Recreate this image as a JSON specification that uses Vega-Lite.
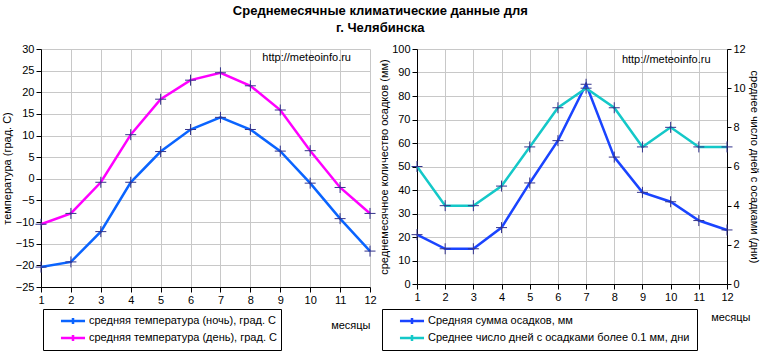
{
  "$schema": "https://vega.github.io/schema/vega-lite/v6.json",
  "padding": {"left": 1, "top": 5, "right": 0, "bottom": 0},
  "background": "white",
  "title": {
    "text": ["Среднемесячные климатические данные для", "г.  Челябинска"],
    "font": "Liberation Sans",
    "fontSize": 13,
    "fontWeight": "bold",
    "lineHeight": 17,
    "anchor": "middle",
    "offset": 8,
    "color": "#000"
  },
  "config": {
    "font": "Liberation Sans",
    "view": {"stroke": null},
    "axis": {
      "labelFont": "Liberation Sans",
      "labelFontSize": 11,
      "labelColor": "#000",
      "titleFont": "Liberation Sans",
      "titleFontSize": 11,
      "titleFontWeight": "normal",
      "titleColor": "#000",
      "domainColor": "#000",
      "tickColor": "#000",
      "gridColor": "#c8c8c8",
      "tickSize": 5,
      "labelPadding": 2,
      "labelOverlap": false
    },
    "legend": {
      "orient": "none",
      "strokeColor": "#000",
      "fillColor": "#fff",
      "padding": 4,
      "labelFont": "Liberation Sans",
      "labelFontSize": 11,
      "labelColor": "#000",
      "labelLimit": 500,
      "symbolType": "M-1.85,0H1.85M0,-0.45V0.45",
      "symbolSize": 169,
      "symbolStrokeWidth": 2.5,
      "symbolFillColor": "transparent",
      "labelOffset": 8,
      "rowPadding": 1,
      "symbolOffset": 18
    }
  },
  "datasets": {
    "temp": [
      {"month": 1, "value": -20.4, "series": "средняя температура (ночь), град. С"},
      {"month": 2, "value": -19.2, "series": "средняя температура (ночь), град. С"},
      {"month": 3, "value": -12.2, "series": "средняя температура (ночь), град. С"},
      {"month": 4, "value": -0.8, "series": "средняя температура (ночь), град. С"},
      {"month": 5, "value": 6.3, "series": "средняя температура (ночь), град. С"},
      {"month": 6, "value": 11.4, "series": "средняя температура (ночь), град. С"},
      {"month": 7, "value": 14.2, "series": "средняя температура (ночь), град. С"},
      {"month": 8, "value": 11.4, "series": "средняя температура (ночь), град. С"},
      {"month": 9, "value": 6.4, "series": "средняя температура (ночь), град. С"},
      {"month": 10, "value": -1.0, "series": "средняя температура (ночь), град. С"},
      {"month": 11, "value": -9.2, "series": "средняя температура (ночь), град. С"},
      {"month": 12, "value": -16.7, "series": "средняя температура (ночь), град. С"},
      {"month": 1, "value": -10.5, "series": "средняя температура (день), град. С"},
      {"month": 2, "value": -8.0, "series": "средняя температура (день), град. С"},
      {"month": 3, "value": -0.8, "series": "средняя температура (день), град. С"},
      {"month": 4, "value": 10.2, "series": "средняя температура (день), град. С"},
      {"month": 5, "value": 18.4, "series": "средняя температура (день), град. С"},
      {"month": 6, "value": 22.8, "series": "средняя температура (день), град. С"},
      {"month": 7, "value": 24.5, "series": "средняя температура (день), град. С"},
      {"month": 8, "value": 21.5, "series": "средняя температура (день), град. С"},
      {"month": 9, "value": 15.9, "series": "средняя температура (день), град. С"},
      {"month": 10, "value": 6.5, "series": "средняя температура (день), град. С"},
      {"month": 11, "value": -2.0, "series": "средняя температура (день), град. С"},
      {"month": 12, "value": -8.0, "series": "средняя температура (день), град. С"}
    ],
    "precip": [
      {"month": 1, "value": 21, "series": "Средняя сумма осадков, мм"},
      {"month": 2, "value": 15, "series": "Средняя сумма осадков, мм"},
      {"month": 3, "value": 15, "series": "Средняя сумма осадков, мм"},
      {"month": 4, "value": 24, "series": "Средняя сумма осадков, мм"},
      {"month": 5, "value": 43, "series": "Средняя сумма осадков, мм"},
      {"month": 6, "value": 61, "series": "Средняя сумма осадков, мм"},
      {"month": 7, "value": 85, "series": "Средняя сумма осадков, мм"},
      {"month": 8, "value": 54, "series": "Средняя сумма осадков, мм"},
      {"month": 9, "value": 39, "series": "Средняя сумма осадков, мм"},
      {"month": 10, "value": 35, "series": "Средняя сумма осадков, мм"},
      {"month": 11, "value": 27, "series": "Средняя сумма осадков, мм"},
      {"month": 12, "value": 23, "series": "Средняя сумма осадков, мм"}
    ],
    "days": [
      {"month": 1, "value": 6, "series": "Среднее число дней с  осадками более 0.1 мм, дни"},
      {"month": 2, "value": 4, "series": "Среднее число дней с  осадками более 0.1 мм, дни"},
      {"month": 3, "value": 4, "series": "Среднее число дней с  осадками более 0.1 мм, дни"},
      {"month": 4, "value": 5, "series": "Среднее число дней с  осадками более 0.1 мм, дни"},
      {"month": 5, "value": 7, "series": "Среднее число дней с  осадками более 0.1 мм, дни"},
      {"month": 6, "value": 9, "series": "Среднее число дней с  осадками более 0.1 мм, дни"},
      {"month": 7, "value": 10, "series": "Среднее число дней с  осадками более 0.1 мм, дни"},
      {"month": 8, "value": 9, "series": "Среднее число дней с  осадками более 0.1 мм, дни"},
      {"month": 9, "value": 7, "series": "Среднее число дней с  осадками более 0.1 мм, дни"},
      {"month": 10, "value": 8, "series": "Среднее число дней с  осадками более 0.1 мм, дни"},
      {"month": 11, "value": 7, "series": "Среднее число дней с  осадками более 0.1 мм, дни"},
      {"month": 12, "value": 7, "series": "Среднее число дней с  осадками более 0.1 мм, дни"}
    ],
    "noteL": [{"month": 8.4, "value": 27.9, "label": "http://meteoinfo.ru"}],
    "noteR": [{"month": 8.27, "value": 95.3, "label": "http://meteoinfo.ru"}]
  },
  "spacing": 0,
  "resolve": {"scale": {"color": "independent"}, "legend": {"color": "independent"}},
  "hconcat": [
    {
      "width": 329,
      "height": 238,
      "layer": [
        {
          "data": {"name": "temp"},
          "mark": {"type": "line", "strokeWidth": 2.5},
          "encoding": {
            "x": {"field": "month", "type": "quantitative", "scale": {"domain": [1, 12], "nice": false},
              "axis": {"values": [1,2,3,4,5,6,7,8,9,10,11,12], "tickCount": 30, "format": "d", "grid": true, "title": "месяцы", "labelOverlap": false,
                "titleAlign": "right", "titleAnchor": "end", "titleX": 329, "titleY": 38, "titleBaseline": "middle", "labelFlush": false}},
            "y": {"field": "value", "type": "quantitative", "scale": {"domain": [-25, 30], "nice": false},
              "axis": {"values": [-25,-20,-15,-10,-5,0,5,10,15,20,25,30], "tickCount": 30, "format": "d", "grid": true, "labelOverlap": false, "title": "температура (град. С)", "titlePadding": 3}},
            "color": {"field": "series", "type": "nominal",
              "scale": {"domain": ["средняя температура (ночь), град. С", "средняя температура (день), град. С"], "range": ["#0a64ff", "#ff00ff"]},
              "legend": {"title": null, "legendX": 2, "legendY": 260}}
          }
        },
        {
          "data": {"name": "temp"},
          "mark": {"type": "point", "shape": "M-1,0H1M0,-1V1", "size": 121, "filled": false, "stroke": "#33338c", "strokeWidth": 1, "opacity": 1},
          "encoding": {
            "x": {"field": "month", "type": "quantitative"},
            "y": {"field": "value", "type": "quantitative"},
            "detail": {"field": "series"}
          }
        },
        {
          "data": {"name": "noteL"},
          "mark": {"type": "text", "align": "left", "baseline": "middle", "fontSize": 11, "font": "Liberation Sans", "color": "#000"},
          "encoding": {
            "x": {"field": "month", "type": "quantitative"},
            "y": {"field": "value", "type": "quantitative"},
            "text": {"field": "label"}
          }
        }
      ]
    },
    {
      "width": 310,
      "height": 235,
      "resolve": {"scale": {"y": "independent"}},
      "layer": [
        {
          "layer": [
            {
              "data": {"name": "precip"},
              "mark": {"type": "line", "strokeWidth": 2.5},
              "encoding": {
                "x": {"field": "month", "type": "quantitative", "scale": {"domain": [1, 12], "nice": false},
                  "axis": {"values": [1,2,3,4,5,6,7,8,9,10,11,12], "tickCount": 30, "format": "d", "grid": true, "title": "месяцы", "labelOverlap": false,
                    "titleAlign": "right", "titleAnchor": "end", "titleX": 333, "titleY": 33, "titleBaseline": "middle", "labelFlush": false}},
                "y": {"field": "value", "type": "quantitative", "scale": {"domain": [0, 100], "nice": false},
                  "axis": {"values": [0,10,20,30,40,50,60,70,80,90,100], "tickCount": 30, "format": "d", "grid": true, "labelOverlap": false, "title": "среднемесячное количество осадков (мм)", "titlePadding": 2}},
                "color": {"field": "series", "type": "nominal",
                  "scale": {"domain": ["Средняя сумма осадков, мм", "Среднее число дней с  осадками более 0.1 мм, дни"], "range": ["#1a44ff", "#14c8c8"]},
                  "legend": {"title": null, "legendX": -35, "legendY": 260}}
              }
            },
            {
              "data": {"name": "precip"},
              "mark": {"type": "point", "shape": "M-1,0H1M0,-1V1", "size": 121, "filled": false, "stroke": "#33338c", "strokeWidth": 1, "opacity": 1},
              "encoding": {
                "x": {"field": "month", "type": "quantitative"},
                "y": {"field": "value", "type": "quantitative"}
              }
            },
            {
              "data": {"name": "noteR"},
              "mark": {"type": "text", "align": "left", "baseline": "middle", "fontSize": 11, "font": "Liberation Sans", "color": "#000"},
              "encoding": {
                "x": {"field": "month", "type": "quantitative"},
                "y": {"field": "value", "type": "quantitative"},
                "text": {"field": "label"}
              }
            }
          ]
        },
        {
          "layer": [
            {
              "data": {"name": "days"},
              "mark": {"type": "line", "strokeWidth": 2.5},
              "encoding": {
                "x": {"field": "month", "type": "quantitative"},
                "y": {"field": "value", "type": "quantitative", "scale": {"domain": [0, 12], "nice": false},
                  "axis": {"orient": "right", "values": [0,2,4,6,8,10,12], "tickCount": 30, "format": "d", "tickSize": 4, "grid": false, "labelOverlap": false, "title": "среднее число дней с осадками (дни)", "titlePadding": 3}},
                "color": {"field": "series", "type": "nominal",
                  "scale": {"domain": ["Средняя сумма осадков, мм", "Среднее число дней с  осадками более 0.1 мм, дни"], "range": ["#1a44ff", "#14c8c8"]}}
              }
            },
            {
              "data": {"name": "days"},
              "mark": {"type": "point", "shape": "M-1,0H1M0,-1V1", "size": 121, "filled": false, "stroke": "#33338c", "strokeWidth": 1, "opacity": 1},
              "encoding": {
                "x": {"field": "month", "type": "quantitative"},
                "y": {"field": "value", "type": "quantitative"}
              }
            }
          ]
        }
      ]
    }
  ]
}
